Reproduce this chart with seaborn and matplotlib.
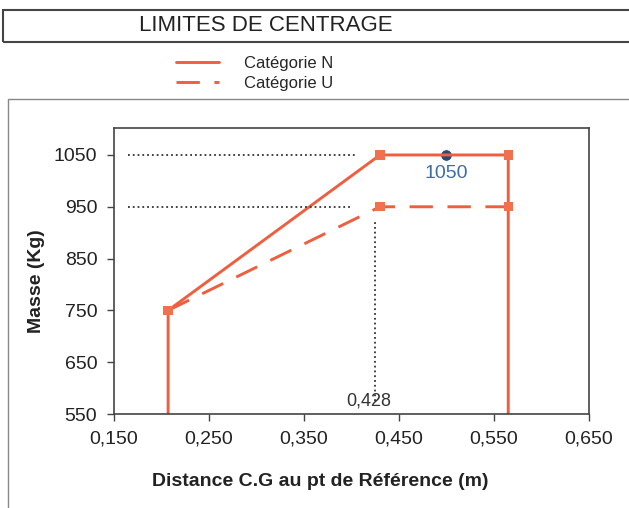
import seaborn as sns
import matplotlib.pyplot as plt
import pandas as pd
from matplotlib.patches import Rectangle

# enveloppe de centrage
n_x = [0.207, 0.207, 0.430, 0.565, 0.565]
n_y = [550, 750, 1050, 1050, 550]
u_x = [0.207, 0.430, 0.565]
u_y = [750, 950, 950]
# points marqués
pts_x = [0.207, 0.430, 0.565, 0.430, 0.565]
pts_y = [750, 1050, 1050, 950, 950]
# point chargé
cg_x = [0.500]
cg_y = [1050]
cg_label = "1050"
ref_x = 0.425
ref_label = "0,428"
xticks = [0.150, 0.250, 0.350, 0.450, 0.550, 0.650]
yticks = [550, 650, 750, 850, 950, 1050]

df = pd.DataFrame({
    "x": n_x + u_x,
    "y": n_y + u_y,
    "serie": ["Catégorie N"] * len(n_x) + ["Catégorie U"] * len(u_x),
})

sns.set_style("white")
plt.rcParams['font.family'] = ['Liberation Sans', 'DejaVu Sans']
red = "#ef5f3f"

fig = plt.figure(figsize=(6.29, 5.08), dpi=100)
ax = fig.add_axes([0.1812, 0.185, 0.7552, 0.563])

sns.scatterplot(x=cg_x, y=cg_y, color="#2a4a72", s=70, ax=ax, zorder=1, legend=False)
sns.lineplot(data=df, x="x", y="y", style="serie", sort=False, estimator=None,
             dashes={"Catégorie N": "", "Catégorie U": (8, 5)},
             color=red, lw=2.1, ax=ax, zorder=2)
sns.scatterplot(x=pts_x, y=pts_y, color="#f07050", marker="s", s=45,
                edgecolor="none", ax=ax, zorder=3, legend=False)

# lignes de repère pointillées
ax.plot([0.165, 0.405], [1050, 1050], ls=":", color="#333333", lw=1.3)
ax.plot([0.165, 0.400], [950, 950], ls=":", color="#333333", lw=1.3)
ax.plot([ref_x, ref_x], [575, 925], ls=":", color="#333333", lw=1.3)

ax.text(cg_x[0], 1015, cg_label, color="#3a6ea8", fontsize=14, ha="center", va="center")
ax.text(0.418, 575, ref_label, color="#333333", fontsize=13, ha="center", va="center")

ax.set_xlim(0.150, 0.650)
ax.set_ylim(550, 1102)
ax.set_xticks(xticks)
ax.set_xticklabels([f"{t:.3f}".replace(".", ",") for t in xticks])
ax.set_yticks(yticks)
ax.tick_params(axis="both", direction="out", length=5, width=1, color="#444444",
               labelsize=14, labelcolor="#222222", bottom=True, left=True, pad=7)
for s in ax.spines.values():
    s.set_color("#444444")
    s.set_linewidth(1.2)
ax.set_xlabel("")
ax.set_ylabel("")

leg = ax.legend(loc="center", bbox_to_anchor=(0.405, 0.856), bbox_transform=fig.transFigure,
                frameon=False, fontsize=12, handlelength=2.6, labelspacing=0.3, handletextpad=1.5)
for line in leg.get_lines():
    line.set_color(red)

fig.text(0.509, 0.053, "Distance C.G au pt de Référence (m)", fontsize=14,
         fontweight="bold", ha="center", va="center", color="#222222")
fig.text(0.058, 0.447, "Masse (Kg)", fontsize=14, fontweight="bold", rotation=90,
         ha="center", va="center", color="#222222")

# cadre du titre
fig.patches.append(Rectangle((0.005, 1 - 42 / 508), 1.0, 32 / 508, transform=fig.transFigure,
                             fill=False, edgecolor="#444444", lw=1.5))
fig.text(0.423, 0.949, "LIMITES DE CENTRAGE", fontsize=16, ha="center", va="center",
         color="#222222")
# cadre du graphique
fig.patches.append(Rectangle((0.013, -0.01), 1.0, 0.815, transform=fig.transFigure,
                             fill=False, edgecolor="#888888", lw=1.0))

fig.savefig("out.png", dpi=100)
